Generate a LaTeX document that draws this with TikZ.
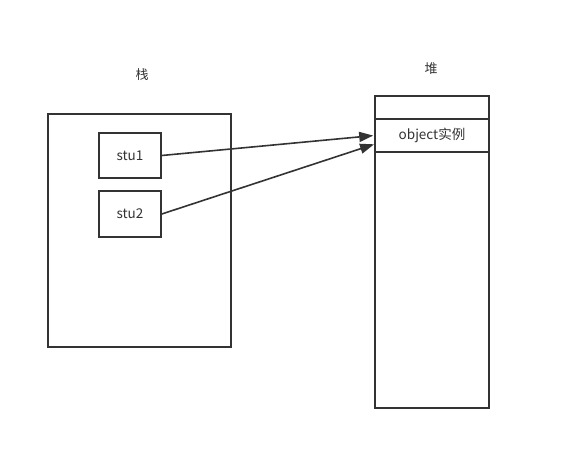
\documentclass[tikz,border=0pt]{standalone}
\usepackage{fontspec}
\setmainfont{Noto Sans CJK SC}
\usetikzlibrary{arrows.meta,calc}
\definecolor{ink}{HTML}{333333}
\begin{document}
\begin{tikzpicture}[x=1pt,y=-1pt,
  box/.style={draw=ink,line width=1.6pt,rectangle,inner sep=0pt,font=\fontsize{13.5}{15}\selectfont,text=ink},
  lbl/.style={font=\fontsize{13}{15}\selectfont,text=ink},
  arr/.style={draw=ink,line width=1.6pt,-{Triangle[length=14pt,width=10pt]},shorten >=1pt}]
\useasboundingbox (0,0) rectangle (574,470);
% stack
\node[box,minimum width=183pt,minimum height=233pt] (stack) at (139.5,230.5) {};
\node[lbl] (stacklbl) at (142,75) {栈};
\node[box,minimum width=62pt,minimum height=45pt] (stu1) at (130,155.5) {stu1};
\node[box,minimum width=62pt,minimum height=46pt] (stu2) at (130,214) {stu2};
% heap
\node[box,minimum width=114pt,minimum height=312pt] (heap) at (432,252) {};
\node[lbl] (heaplbl) at (431,69) {堆};
\node[box,minimum width=114pt,minimum height=33pt] (obj) at (432,135.5) {object实例};
\coordinate (in2) at (375,144);
\draw[arr] (stu1.east) -- (obj.west);
\draw[arr] (stu2.east) -- (in2);
\end{tikzpicture}
\end{document}
